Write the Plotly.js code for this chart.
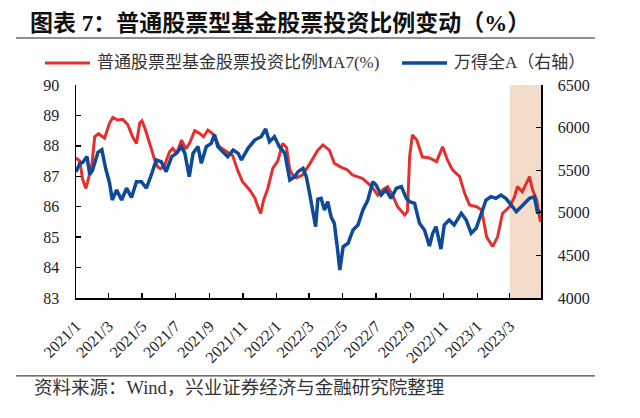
<!DOCTYPE html>
<html>
<head>
<meta charset="utf-8">
<script src="https://cdn.plot.ly/plotly-3.0.1.min.js"></script>
<style>
  html, body { margin: 0; padding: 0; background: #fff; }
  #plot { width: 640px; height: 418px; }
</style>
</head>
<body>
<div id="plot"></div>
<script>
// 普通股票型基金股票投资比例 MA7 (%), left axis
let ratioDates = [
  '2021-01-01','2021-01-08','2021-01-13','2021-01-19','2021-01-22','2021-01-30','2021-02-04','2021-02-11',
  '2021-02-22','2021-03-03','2021-03-09','2021-03-18','2021-03-27','2021-04-05','2021-04-14','2021-04-21',
  '2021-04-27','2021-05-01','2021-05-06','2021-05-15','2021-05-24','2021-05-30','2021-06-04','2021-06-11',
  '2021-06-20','2021-06-26','2021-07-03','2021-07-12','2021-07-20','2021-07-27','2021-08-05','2021-08-14',
  '2021-08-21','2021-08-29','2021-09-07','2021-09-19','2021-10-02','2021-10-13','2021-10-22','2021-10-31',
  '2021-11-13','2021-11-22','2021-11-27','2021-12-03','2021-12-08','2021-12-16','2021-12-25','2022-01-03',
  '2022-01-12','2022-01-19','2022-01-25','2022-02-01','2022-02-06','2022-02-17','2022-03-02','2022-03-17',
  '2022-03-26','2022-04-07','2022-04-16','2022-04-26','2022-05-10','2022-05-19','2022-06-06','2022-06-23',
  '2022-07-04','2022-07-13','2022-07-22','2022-07-31','2022-08-09','2022-08-22','2022-08-27','2022-08-31',
  '2022-09-05','2022-09-13','2022-09-23','2022-10-06','2022-10-19','2022-10-30','2022-11-08','2022-11-17',
  '2022-11-30','2022-12-09','2022-12-18','2022-12-31','2023-01-09','2023-01-18','2023-01-29','2023-02-07',
  '2023-02-16','2023-03-01','2023-03-10','2023-03-15','2023-03-24','2023-04-06','2023-04-11','2023-04-19',
  '2023-04-26'
];
let ratioValues = [
  87.6, 87.5, 86.9, 86.6, 86.8, 87.4, 88.3, 88.4,
  88.25, 88.75, 88.93, 88.85, 88.87, 88.7, 88.3, 88.08,
  88.75, 88.82, 88.6, 88.1, 87.55, 87.3, 87.25, 87.35,
  87.8, 87.92, 87.75, 88.19, 87.9, 88.1, 88.5, 88.41,
  88.3, 88.52, 88.4, 87.97, 87.81, 87.68, 87.2, 86.82,
  86.55, 86.3, 86.05, 85.78, 86.2, 86.6, 87.26, 87.5,
  88.08, 87.95, 87.21, 87.0, 86.95, 87.04, 87.4, 87.86,
  88.03, 87.86, 87.43, 87.32, 87.21, 87.04, 86.93, 86.66,
  86.38, 86.55, 86.66, 86.38, 86.0, 85.73, 85.85, 87.64,
  88.36, 88.19, 87.64, 87.6, 87.48, 87.97, 87.53, 87.21,
  86.99, 86.44, 86.06, 86.0, 85.89, 85.01, 84.69, 85.01,
  85.78, 86.0, 86.33, 86.66, 86.49, 86.99, 86.6, 86.22,
  85.5
];

// 万得全A, right axis
let indexDates = [
  '2021-01-01','2021-01-08','2021-01-13','2021-01-21','2021-01-26','2021-01-31','2021-02-10','2021-02-17',
  '2021-02-24','2021-03-03','2021-03-08','2021-03-16','2021-03-25','2021-04-03','2021-04-12','2021-04-21',
  '2021-04-30','2021-05-09','2021-05-18','2021-05-27','2021-06-05','2021-06-14','2021-06-24','2021-07-03',
  '2021-07-12','2021-07-18','2021-07-26','2021-08-02','2021-08-11','2021-08-17','2021-08-26','2021-09-04',
  '2021-09-10','2021-09-16','2021-09-25','2021-10-04','2021-10-14','2021-10-23','2021-10-29','2021-11-10',
  '2021-11-22','2021-12-04','2021-12-12','2021-12-19','2021-12-28','2022-01-06','2022-01-16','2022-01-25',
  '2022-02-03','2022-02-09','2022-02-18','2022-02-24','2022-03-02','2022-03-08','2022-03-13','2022-03-17',
  '2022-03-23','2022-03-29','2022-04-04','2022-04-10','2022-04-16','2022-04-22','2022-04-26','2022-05-02',
  '2022-05-11','2022-05-20','2022-05-29','2022-06-07','2022-06-16','2022-06-25','2022-07-01','2022-07-10',
  '2022-07-19','2022-07-28','2022-08-07','2022-08-16','2022-08-25','2022-08-31','2022-09-09','2022-09-18',
  '2022-09-27','2022-10-06','2022-10-12','2022-10-18','2022-10-27','2022-11-02','2022-11-11','2022-11-20',
  '2022-12-03','2022-12-12','2022-12-21','2022-12-30','2023-01-08','2023-01-17','2023-01-26','2023-02-04',
  '2023-02-13','2023-02-22','2023-03-04','2023-03-13','2023-03-22','2023-03-31','2023-04-06','2023-04-15',
  '2023-04-21','2023-04-26'
];
let indexValues = [
  5480, 5580, 5590, 5660, 5450, 5500, 5710, 5740,
  5520, 5350, 5150, 5268, 5150, 5290, 5180, 5365,
  5365, 5288, 5444, 5620, 5600, 5483, 5659, 5698,
  5776, 5700, 5424, 5700, 5776, 5581, 5776, 5815,
  5920, 5776, 5717, 5659, 5737, 5698, 5620, 5757,
  5854, 5893, 5985, 5835, 5893, 5776, 5698, 5385,
  5424, 5483, 5522, 5424, 5229, 5033, 4837, 5160,
  5170, 5033, 5130, 4954, 4876, 4563, 4329, 4602,
  4642, 4798, 4857, 5033, 5150, 5365, 5326, 5209,
  5268, 5170, 5288, 5307, 5170, 5130, 5111, 4876,
  4798, 4610, 4759, 4837, 4575, 4857, 4915, 4857,
  4994, 4915, 4759, 4818, 4974, 5150, 5189, 5170,
  5209, 5170, 5091, 5013, 5072, 5130, 5170, 5189,
  4994, 5030
];

let xStart = '2021-01-01';
let xEnd = '2023-04-27';
let shadeStart = '2023-03-01';

let serif = 'Liberation Serif, Noto Sans CJK SC, serif';

let trace1 = {
  x: ratioDates, y: ratioValues,
  type: 'scatter', mode: 'lines',
  line: {color: '#e3302f', width: 3},
  name: '普通股票型基金股票投资比例MA7(%)',
  hoverinfo: 'skip'
};
let trace2 = {
  x: indexDates, y: indexValues,
  type: 'scatter', mode: 'lines', yaxis: 'y2',
  line: {color: '#0d4a98', width: 3.5},
  name: '万得全A（右轴）',
  hoverinfo: 'skip'
};

// plot area in pixels: x 76..541, y 85..298
let layout = {
  width: 640, height: 418,
  margin: {l: 76, r: 99, t: 85, b: 120},
  paper_bgcolor: '#fff', plot_bgcolor: 'rgba(0,0,0,0)',
  showlegend: false,
  font: {family: serif, color: '#222'},
  title: {
    text: '<b>图表 7：普通股票型基金股票投资比例变动（%）</b>',
    font: {family: serif, size: 23, color: '#111'},
    x: 30 / 640, xanchor: 'left', xref: 'container',
    y: 1 - 23 / 418, yanchor: 'middle', yref: 'container'
  },
  xaxis: {
    type: 'date', range: [xStart, xEnd],
    tick0: xStart, dtick: 'M2', tickformat: '%Y/%-m',
    tickangle: -45, ticks: 'inside', ticklen: 5, tickcolor: '#000', tickwidth: 1.3,
    showline: true, linecolor: '#000', linewidth: 1.5,
    showgrid: false, zeroline: false,
    tickfont: {family: serif, size: 16, color: '#222'},
    ticklabelstandoff: 11
  },
  yaxis: {
    range: [83, 90], dtick: 1,
    ticks: 'inside', ticklen: 5, tickcolor: '#000', tickwidth: 1.3,
    showline: true, linecolor: '#000', linewidth: 1.5,
    showgrid: false, zeroline: false,
    tickfont: {family: serif, size: 16, color: '#222'},
    ticklabelstandoff: 12
  },
  yaxis2: {
    range: [4000, 6500], dtick: 500, overlaying: 'y', side: 'right',
    ticks: 'inside', ticklen: 5, tickcolor: '#000', tickwidth: 1.3,
    showline: true, linecolor: '#000', linewidth: 1.5,
    showgrid: false, zeroline: false,
    tickfont: {family: serif, size: 16, color: '#222'},
    ticklabelstandoff: 12
  },
  shapes: [
    // shaded recent period
    {type: 'rect', xref: 'x', yref: 'paper', x0: shadeStart, x1: xEnd, y0: 0, y1: 1,
     fillcolor: '#f4dccb', line: {width: 0}, layer: 'below'},
    // rule under the title
    {type: 'line', xref: 'paper', yref: 'paper', x0: -0.129, x1: 1.116, y0: 1.2207, y1: 1.2207,
     line: {color: '#222', width: 1.2}},
    // rule above the source
    {type: 'line', xref: 'paper', yref: 'paper', x0: -0.129, x1: 1.116, y0: -0.366, y1: -0.366,
     line: {color: '#444', width: 1.2}},
    // legend samples
    {type: 'line', xref: 'paper', yref: 'paper', x0: -0.0667, x1: 0.0301, y0: 1.1033, y1: 1.1033,
     line: {color: '#e3302f', width: 3}},
    {type: 'line', xref: 'paper', yref: 'paper', x0: 0.7011, x1: 0.7978, y0: 1.1033, y1: 1.1033,
     line: {color: '#0d4a98', width: 3.5}}
  ],
  annotations: [
    {xref: 'paper', yref: 'paper', x: 0.0409, y: 1.1033, xanchor: 'left', yanchor: 'middle',
     text: trace1.name, showarrow: false, font: {family: serif, size: 17, color: '#333'}},
    {xref: 'paper', yref: 'paper', x: 0.8086, y: 1.1033, xanchor: 'left', yanchor: 'middle',
     text: trace2.name, showarrow: false, font: {family: serif, size: 17, color: '#333'}},
    {xref: 'paper', yref: 'paper', x: -0.0946, y: -0.4225, xanchor: 'left', yanchor: 'middle',
     text: '资料来源：Wind，兴业证券经济与金融研究院整理', showarrow: false,
     font: {family: serif, size: 18.5, color: '#333'}}
  ]
};

Plotly.newPlot('plot', [trace1, trace2], layout, {staticPlot: true});
</script>
</body>
</html>
